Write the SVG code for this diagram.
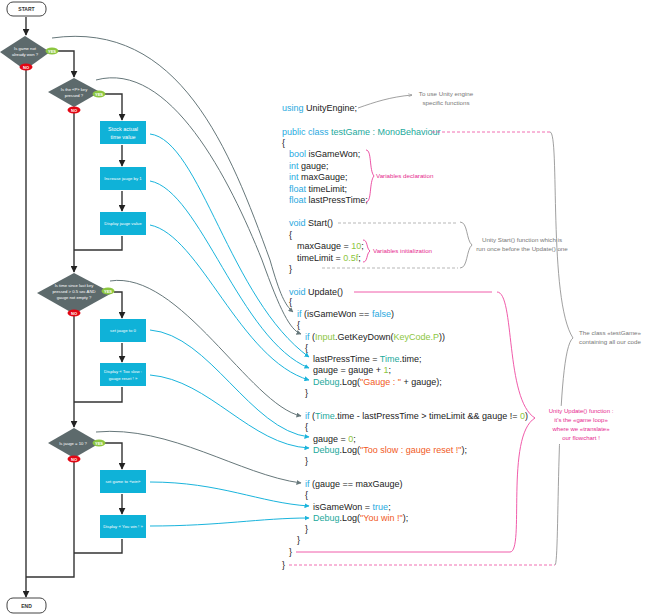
<svg xmlns="http://www.w3.org/2000/svg" width="646" height="615" viewBox="0 0 646 615">
<defs>
<marker id="ak" viewBox="0 0 10 10" refX="9" refY="5" markerWidth="5" markerHeight="5" orient="auto"><path d="M0,0L10,5L0,10z" fill="#222"/></marker>
<marker id="ag" viewBox="0 0 10 10" refX="9" refY="5" markerWidth="5" markerHeight="5" orient="auto"><path d="M0,0L10,5L0,10z" fill="#66777a"/></marker>
<marker id="ac" viewBox="0 0 10 10" refX="9" refY="5" markerWidth="5" markerHeight="5" orient="auto"><path d="M0,0L10,5L0,10z" fill="#1ab4dc"/></marker>
<marker id="aa" viewBox="0 0 10 10" refX="9" refY="5" markerWidth="6" markerHeight="6" orient="auto"><path d="M0,1L9,5L0,9" fill="none" stroke="#777"/></marker>
</defs>
<style>
text{font-family:"Liberation Sans",Arial,sans-serif}
.term{fill:#fff;stroke:#444;stroke-width:1}
.tt{font-size:5px;font-weight:bold;fill:#333;text-anchor:middle}
.dia{fill:#5d6a6c}
.dt{font-size:4.2px;fill:#fff;text-anchor:middle}
.box{fill:#0fb2d8}
.bt{font-size:5px;fill:#fff;text-anchor:middle}
.yes{fill:#8cc63f}.no{fill:#e30613}
.bd{font-size:4px;fill:#fff;text-anchor:middle;font-weight:bold}
.fl{fill:none;stroke:#333;stroke-width:1.4}
.gc{fill:none;stroke:#66777a;stroke-width:1}
.cc{fill:none;stroke:#1ab4dc;stroke-width:1}
.code{font-size:9px;fill:#222}
.k{fill:#29a9e0}.t{fill:#1ca99c}.g{fill:#8cc63f}.s{fill:#f15a24}
.ann{font-size:6.2px;fill:#777;text-anchor:middle}
.mag{font-size:6.2px;fill:#e6288e}
.magm{font-size:6px;fill:#e6288e;text-anchor:middle}
</style>
<g id="connectors">
<path class="fl" d="M26,17V35" marker-end="url(#ak)"/>
<path class="fl" d="M58,51H74V77" marker-end="url(#ak)"/>
<path class="fl" d="M105,94H122V120" marker-end="url(#ak)"/>
<path class="fl" d="M122,145V166" marker-end="url(#ak)"/>
<path class="fl" d="M122,191V211" marker-end="url(#ak)"/>
<path class="fl" d="M122,236V250H74"/>
<path class="fl" d="M74,113V272" marker-end="url(#ak)"/>
<path class="fl" d="M114,292H122V318" marker-end="url(#ak)"/>
<path class="fl" d="M122,343V362" marker-end="url(#ak)"/>
<path class="fl" d="M122,387V402H74"/>
<path class="fl" d="M74,316V427" marker-end="url(#ak)"/>
<path class="fl" d="M105,443H122V469" marker-end="url(#ak)"/>
<path class="fl" d="M122,494V514" marker-end="url(#ak)"/>
<path class="fl" d="M122,539V553H74"/>
<path class="fl" d="M74,462V577H26"/>
<path class="fl" d="M26,70V597" marker-end="url(#ak)"/>
<path class="gc" d="M52,38C180,20 230,150 270,260 C280,295 285,305 293,312" marker-end="url(#ag)"/>
<path class="gc" d="M96,80C170,60 230,180 262,260 C280,310 290,330 301,334" marker-end="url(#ag)"/>
<path class="cc" d="M150,134C200,140 230,300 309,357" marker-end="url(#ac)"/>
<path class="cc" d="M150,181C200,190 240,340 309,368" marker-end="url(#ac)"/>
<path class="cc" d="M150,225C200,235 240,360 309,380" marker-end="url(#ac)"/>
<path class="gc" d="M110,281C180,270 250,405 301,416" marker-end="url(#ag)"/>
<path class="cc" d="M150,330C210,335 250,430 309,437" marker-end="url(#ac)"/>
<path class="cc" d="M150,375C210,380 250,445 309,448" marker-end="url(#ac)"/>
<path class="gc" d="M96,432C170,425 240,475 301,483" marker-end="url(#ag)"/>
<path class="cc" d="M150,482C220,482 260,503 309,506" marker-end="url(#ac)"/>
<path class="cc" d="M150,526C220,526 260,518 309,518" marker-end="url(#ac)"/>
</g>
<g id="start"><rect class="term" x="7" y="2" width="39" height="14" rx="6"/><text class="tt" x="26.5" y="11">START</text></g>
<g id="end"><rect class="term" x="7" y="598" width="39" height="15" rx="6"/><text class="tt" x="26.5" y="607.5">END</text></g>
<g id="d1"><path class="dia" d="M25,36L50,52L25,70L0,52z"/><text class="dt" x="25" y="50">Is game not</text><text class="dt" x="25" y="56">already won ?</text>
<ellipse class="yes" cx="52" cy="51" rx="6.5" ry="3.5"/><text class="bd" x="52" y="52.5">YES</text><ellipse class="no" cx="26" cy="67" rx="6.5" ry="3.5"/><text class="bd" x="26" y="68.5">NO</text></g>
<g id="d2"><path class="dia" d="M74,78L100,92L74,107L48,92z"/><text class="dt" x="74" y="91">Is the «P» key</text><text class="dt" x="74" y="97">pressed ?</text>
<ellipse class="yes" cx="99" cy="94" rx="6.5" ry="3.5"/><text class="bd" x="99" y="95.5">YES</text><ellipse class="no" cx="74" cy="110" rx="6.5" ry="3.5"/><text class="bd" x="74" y="111.5">NO</text></g>
<g id="b1"><rect class="box" x="100" y="121" width="46" height="23"/><text class="bt" x="123" y="131" style="font-size:5.5px">Stock actual</text><text class="bt" x="123" y="139" style="font-size:5.5px">time value</text></g>
<g id="b2"><rect class="box" x="100" y="167" width="46" height="23"/><text class="bt" x="123" y="180" style="font-size:4.3px">Increase jauge by 1</text></g>
<g id="b3"><rect class="box" x="100" y="212" width="46" height="23"/><text class="bt" x="123" y="225" style="font-size:4.3px">Display jauge value</text></g>
<g id="d3"><path class="dia" d="M74,273L112,293L74,314L37,293z"/><text class="dt" x="74" y="287">Is time since last key</text><text class="dt" x="74" y="293">pressed &gt; 0.5 sec AND</text><text class="dt" x="74" y="299">gauge not empty ?</text>
<ellipse class="yes" cx="108" cy="291" rx="6.5" ry="3.5"/><text class="bd" x="108" y="292.5">YES</text><ellipse class="no" cx="74" cy="313" rx="6.5" ry="3.5"/><text class="bd" x="74" y="314.5">NO</text></g>
<g id="b4"><rect class="box" x="100" y="319" width="46" height="23"/><text class="bt" x="123" y="332" style="font-size:4.3px">set jauge to 0</text></g>
<g id="b5"><rect class="box" x="100" y="363" width="46" height="23"/><text class="bt" x="123" y="373" style="font-size:4.3px">Display « Too slow :</text><text class="bt" x="123" y="380" style="font-size:4.3px">gauge reset ! »</text></g>
<g id="d4"><path class="dia" d="M74,428L100,443L74,458L48,443z"/><text class="dt" x="73" y="445">Is jauge = 10 ?</text>
<ellipse class="yes" cx="99" cy="443" rx="6.5" ry="3.5"/><text class="bd" x="99" y="444.5">YES</text><ellipse class="no" cx="74" cy="459" rx="6.5" ry="3.5"/><text class="bd" x="74" y="460.5">NO</text></g>
<g id="b6"><rect class="box" x="100" y="470" width="46" height="23"/><text class="bt" x="123" y="483" style="font-size:4.3px">set game to «win»</text></g>
<g id="b7"><rect class="box" x="100" y="515" width="46" height="23"/><text class="bt" x="123" y="528" style="font-size:4.3px">Display « You win ! »</text></g>
<g id="code" class="code">
<text x="282" y="111"><tspan class="k">using</tspan> UnityEngine;</text>
<text x="282" y="135"><tspan class="k">public class</tspan> <tspan class="t">testGame : MonoBehaviour</tspan></text>
<text x="282" y="146">{</text>
<text x="289" y="157"><tspan class="k">bool</tspan> isGameWon;</text>
<text x="289" y="169"><tspan class="k">int</tspan> gauge;</text>
<text x="289" y="180"><tspan class="k">int</tspan> maxGauge;</text>
<text x="289" y="192"><tspan class="k">float</tspan> timeLimit;</text>
<text x="289" y="203"><tspan class="k">float</tspan> lastPressTime;</text>
<text x="289" y="226"><tspan class="k">void</tspan> Start()</text>
<text x="289" y="238">{</text>
<text x="297" y="249">maxGauge = <tspan class="g">10</tspan>;</text>
<text x="297" y="261">timeLimit = <tspan class="g">0.5f</tspan>;</text>
<text x="289" y="272">}</text>
<text x="289" y="295"><tspan class="k">void</tspan> Update()</text>
<text x="289" y="305">{</text>
<text x="297" y="317"><tspan class="k">if</tspan> (isGameWon == <tspan class="k">false</tspan>)</text>
<text x="297" y="328">{</text>
<text x="305" y="340"><tspan class="k">if</tspan> (<tspan class="g">Input</tspan>.GetKeyDown(<tspan class="g">KeyCode.P</tspan>))</text>
<text x="305" y="351">{</text>
<text x="313" y="362">lastPressTime = <tspan class="t">Time</tspan>.time;</text>
<text x="313" y="373">gauge = gauge + <tspan class="g">1</tspan>;</text>
<text x="313" y="385"><tspan class="t">Debug</tspan>.Log(<tspan class="s">"Gauge : "</tspan> + gauge);</text>
<text x="305" y="396">}</text>
<text x="305" y="419"><tspan class="k">if</tspan> (<tspan class="t">Time</tspan>.time - lastPressTime &gt; timeLimit &amp;&amp; gauge != <tspan class="g">0</tspan>)</text>
<text x="305" y="430">{</text>
<text x="313" y="442">gauge = <tspan class="g">0</tspan>;</text>
<text x="313" y="453"><tspan class="t">Debug</tspan>.Log(<tspan class="s">"Too slow : gauge reset !"</tspan>);</text>
<text x="305" y="464">}</text>
<text x="305" y="487"><tspan class="k">if</tspan> (gauge == maxGauge)</text>
<text x="305" y="498">{</text>
<text x="313" y="510">isGameWon = <tspan class="k">true</tspan>;</text>
<text x="313" y="521"><tspan class="t">Debug</tspan>.Log(<tspan class="s">"You win !"</tspan>);</text>
<text x="305" y="532">}</text>
<text x="297" y="543">}</text>
<text x="289" y="555">}</text>
<text x="282" y="568">}</text>
</g>
<g id="annotations">
<path d="M358,108C375,102 390,97 412,95" fill="none" stroke="#777" stroke-width="0.7" marker-end="url(#aa)"/>
<text class="ann" x="446" y="96">To use Unity engine</text><text class="ann" x="446" y="105">specific functions</text>
<path d="M366,150C372,150 369,170 374,176C369,182 372,202 366,202" fill="none" stroke="#e6288e" stroke-width="0.8"/>
<text class="mag" x="376" y="178">Variables declaration</text>
<path d="M363,240C368,240 366,248 370,251C366,254 368,262 363,262" fill="none" stroke="#e6288e" stroke-width="0.8"/>
<text class="mag" x="373" y="253">Variables initialization</text>
<path d="M338,223H458M322,268H458" stroke="#999" stroke-width="0.7" stroke-dasharray="3,2"/>
<path d="M460,222C468,222 466,240 472,245C466,250 468,268 460,268" fill="none" stroke="#888" stroke-width="0.8"/>
<text class="ann" x="522" y="242">Unity Start() function which is</text><text class="ann" x="522" y="251">run once before the Update() one</text>
<path d="M354,292H492M296,552H510" stroke="#ee4aa0" stroke-width="0.9"/>
<path d="M497,292C515,292 505,400 535,418C505,436 525,552 510,552" fill="none" stroke="#ee4aa0" stroke-width="0.9"/>
<path d="M432,132H550M289,565H555" stroke="#ee4aa0" stroke-width="0.8" stroke-dasharray="3,2"/>
<path d="M550,132C560,132 548,300 573,338C555,350 560,565 555,565" fill="none" stroke="#888" stroke-width="0.8"/>
<rect x="543" y="406" width="76" height="38" fill="#fff"/>
<text class="magm" x="581" y="413">Unity Update() function :</text><text class="magm" x="581" y="422">it's the «game loop»</text><text class="magm" x="581" y="431">where we «translate»</text><text class="magm" x="581" y="440">our flowchart !</text>
<text class="ann" x="610" y="335">The class «testGame»</text><text class="ann" x="610" y="344">containing all our code</text>
</g>
</svg>
